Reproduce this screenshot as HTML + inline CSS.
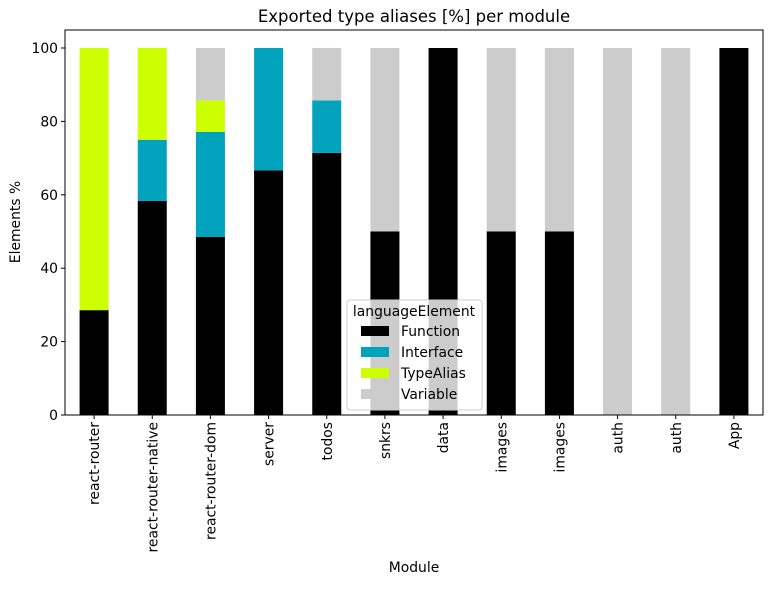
<!DOCTYPE html>
<html><head><meta charset="utf-8"><style>body{margin:0;background:#fff}svg{font-family:"DejaVu Sans","Liberation Sans",sans-serif}</style></head>
<body>
<svg id="chart" width="773" height="585">
<text x="414" y="22" font-size="16.5" text-anchor="middle">Exported type aliases [%] per module</text>
<text x="414" y="572" font-size="13.9" text-anchor="middle">Module</text>
<text transform="translate(20,222) rotate(-90)" font-size="13.9" text-anchor="middle">Elements %</text>
<g id="bars"></g><g id="axes"></g><g id="legend"></g>
</svg>
<script>
const categories=["react-router","react-router-native","react-router-dom","server","todos","snkrs","data","images","images","auth","auth","App"];
const seriesNames=["Function","Interface","TypeAlias","Variable"];
const functionVals=[28.57,58.33,48.57,66.67,71.43,50,100,50,50,0,0,100];
const interfaceVals=[0,16.67,28.57,33.33,14.29,0,0,0,0,0,0,0];
const typeAliasVals=[71.43,25,8.57,0,0,0,0,0,0,0,0,0];
const variableVals=[0,0,14.29,0,14.29,50,0,50,50,100,100,0];
const yTicks=[0,20,40,60,80,100];
const colors=["#000000","#00a3bb","#ccff00","#cccccc"];
const NS="http://www.w3.org/2000/svg";
const L=65,R=763,T=30,B=415,Y0=415,Y100=48;
const y=v=>Y0-(Y0-Y100)*v/100;
const step=(R-L)/categories.length;
const x=i=>L+step*(i+0.5);
const bw=29;
function mk(tag,attrs,parent){const e=document.createElementNS(NS,tag);for(const k in attrs)e.setAttribute(k,attrs[k]);parent.appendChild(e);return e;}
const bars=document.getElementById('bars'),axes=document.getElementById('axes'),leg=document.getElementById('legend');
const series=[functionVals,interfaceVals,typeAliasVals,variableVals];
categories.forEach((c,i)=>{let acc=0;series.forEach((s,j)=>{const v=s[i];if(v>0){const r=mk('rect',{x:x(i)-bw/2,y:y(acc+v),width:bw,height:y(acc)-y(acc+v),fill:colors[j]},bars);

}acc+=v;});
const t=mk('text',{transform:`translate(${x(i)+5},${B+7}) rotate(-90)`,'font-size':13.9,'text-anchor':'end'},axes);t.textContent=c;


mk('line',{x1:x(i),x2:x(i),y1:B,y2:B+4,stroke:'#000'},axes);});
yTicks.forEach(v=>{mk('line',{x1:L-4,x2:L,y1:y(v),y2:y(v),stroke:'#000'},axes);const t=mk('text',{x:L-7,y:y(v)+5,'font-size':13.9,'text-anchor':'end'},axes);t.textContent=v;

});
const fr=mk('rect',{x:L,y:T,width:R-L,height:B-T,fill:'none',stroke:'#000','stroke-width':1},axes);


const lb=mk('rect',{x:347,y:300,width:135,height:110,fill:'#fff','fill-opacity':0.8,stroke:'#ccc',rx:3},leg);


const lt=mk('text',{x:414,y:316,'font-size':13.9,'text-anchor':'middle'},leg);lt.textContent='languageElement';


seriesNames.forEach((n,j)=>{const yy=326+j*21;mk('rect',{x:361,y:yy,width:28,height:10,fill:colors[j]},leg);const t=mk('text',{x:401,y:yy+10,'font-size':13.9},leg);t.textContent=n;

});
</script>
</body></html>
